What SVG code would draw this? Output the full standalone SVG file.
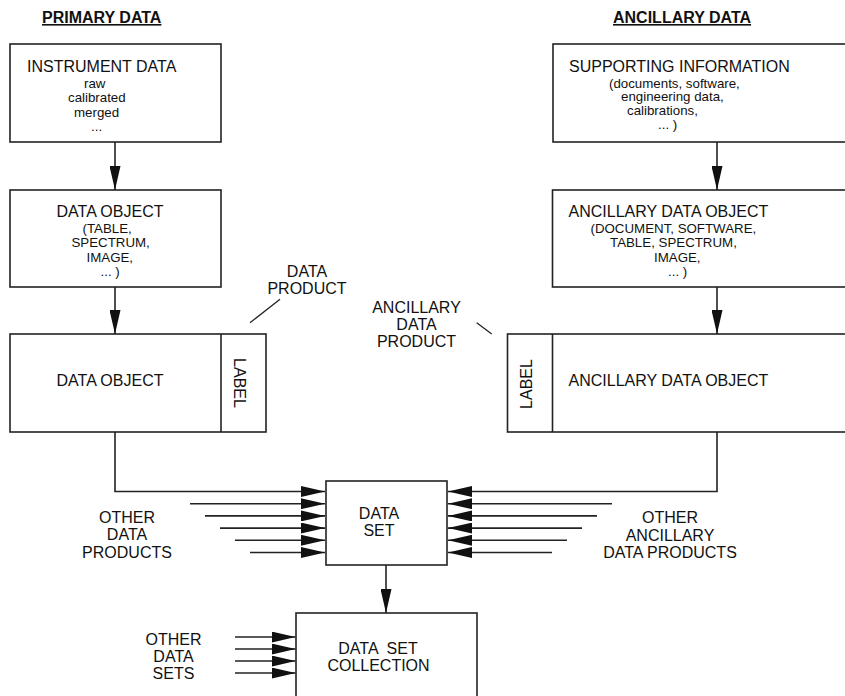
<svg xmlns="http://www.w3.org/2000/svg" width="845" height="696" viewBox="0 0 845 696">
<defs>
<style>
.box{fill:#fff;stroke:#222;stroke-width:1.6}
.conn{fill:none;stroke:#222;stroke-width:1.6}
.lead{fill:none;stroke:#222;stroke-width:1.3}
text{font-family:"Liberation Sans",Arial,Helvetica,sans-serif;font-size:16px;fill:#111}
.s{font-size:13.3px}
.c{text-anchor:middle}
.h{font-weight:bold;text-decoration:underline}
</style>
<marker id="ah" markerUnits="userSpaceOnUse" markerWidth="24" markerHeight="11" refX="24" refY="5.5" orient="auto">
<path d="M0,0 L24,5.5 L0,11 Z" fill="#111"/>
</marker>
</defs>
<rect width="845" height="696" fill="#fff"/>

<g id="headers">
<text class="h" x="42" y="23">PRIMARY DATA</text>
<text class="h" x="613" y="23">ANCILLARY DATA</text>
</g>

<g id="connectors">
<line class="conn" x1="115" y1="142" x2="115" y2="190" marker-end="url(#ah)"/>
<line class="conn" x1="115" y1="287" x2="115" y2="334" marker-end="url(#ah)"/>
<line class="conn" x1="717" y1="142" x2="717" y2="190" marker-end="url(#ah)"/>
<line class="conn" x1="717" y1="287" x2="717" y2="334" marker-end="url(#ah)"/>
<polyline class="conn" points="115,432 115,491.5 325,491.5" marker-end="url(#ah)"/>
<line class="conn" x1="190" y1="503.7" x2="325" y2="503.7" marker-end="url(#ah)"/>
<line class="conn" x1="205" y1="515.9" x2="325" y2="515.9" marker-end="url(#ah)"/>
<line class="conn" x1="220" y1="528.1" x2="325" y2="528.1" marker-end="url(#ah)"/>
<line class="conn" x1="235" y1="540.3" x2="325" y2="540.3" marker-end="url(#ah)"/>
<line class="conn" x1="250" y1="552.5" x2="325" y2="552.5" marker-end="url(#ah)"/>
<polyline class="conn" points="717,432 717,491.5 448,491.5" marker-end="url(#ah)"/>
<line class="conn" x1="612" y1="503.7" x2="448" y2="503.7" marker-end="url(#ah)"/>
<line class="conn" x1="597" y1="515.9" x2="448" y2="515.9" marker-end="url(#ah)"/>
<line class="conn" x1="582" y1="528.1" x2="448" y2="528.1" marker-end="url(#ah)"/>
<line class="conn" x1="567" y1="540.3" x2="448" y2="540.3" marker-end="url(#ah)"/>
<line class="conn" x1="552" y1="552.5" x2="448" y2="552.5" marker-end="url(#ah)"/>
<line class="conn" x1="386" y1="565" x2="386" y2="613" marker-end="url(#ah)"/>
<line class="conn" x1="235" y1="637" x2="295.5" y2="637" marker-end="url(#ah)"/>
<line class="conn" x1="235" y1="649" x2="295.5" y2="649" marker-end="url(#ah)"/>
<line class="conn" x1="235" y1="661" x2="295.5" y2="661" marker-end="url(#ah)"/>
<line class="conn" x1="235" y1="673" x2="295.5" y2="673" marker-end="url(#ah)"/>
<line class="lead" x1="250" y1="322.7" x2="280" y2="299.3"/>
<line class="lead" x1="476.7" y1="322.7" x2="491.7" y2="334"/>
</g>

<g id="instrument-data">
<rect class="box" x="10" y="44" width="211" height="98"/>
<text x="27" y="71.5">INSTRUMENT DATA</text>
<text class="s" x="84" y="87.5">raw</text>
<text class="s" x="68" y="102">calibrated</text>
<text class="s" x="74" y="116.5">merged</text>
<text class="s" x="91" y="131">...</text>
</g>

<g id="supporting-information">
<rect class="box" x="553" y="44" width="300" height="98"/>
<text x="569" y="71.5">SUPPORTING INFORMATION</text>
<text class="s" x="609" y="87.5">(documents, software,</text>
<text class="s" x="621" y="101">engineering data,</text>
<text class="s" x="627" y="114.5">calibrations,</text>
<text class="s" x="658" y="128.5">... )</text>
</g>

<g id="data-object">
<rect class="box" x="10" y="190" width="211" height="97"/>
<text x="56.5" y="216.5">DATA OBJECT</text>
<text class="s" x="82.5" y="232.5">(TABLE,</text>
<text class="s" x="71.5" y="247">SPECTRUM,</text>
<text class="s" x="86.5" y="261.5">IMAGE,</text>
<text class="s" x="100.5" y="276">... )</text>
</g>

<g id="ancillary-data-object">
<rect class="box" x="552.5" y="190" width="300" height="97"/>
<text x="568.5" y="216.5">ANCILLARY DATA OBJECT</text>
<text class="s" x="590.5" y="232.5">(DOCUMENT, SOFTWARE,</text>
<text class="s" x="610" y="247">TABLE, SPECTRUM,</text>
<text class="s" x="654" y="261.5">IMAGE,</text>
<text class="s" x="668" y="276">... )</text>
</g>

<g id="data-product">
<rect class="box" x="10" y="334" width="256" height="98"/>
<line class="conn" x1="221" y1="334" x2="221" y2="432"/>
<text x="56.5" y="386">DATA OBJECT</text>
<text class="c" transform="translate(233.6,383) rotate(90)">LABEL</text>
<text class="c" x="307" y="277">DATA</text>
<text class="c" x="307" y="294">PRODUCT</text>
</g>

<g id="ancillary-data-product">
<rect class="box" x="507.5" y="334" width="350" height="98"/>
<line class="conn" x1="552.5" y1="334" x2="552.5" y2="432"/>
<text x="568.5" y="386">ANCILLARY DATA OBJECT</text>
<text class="c" transform="translate(532.4,384) rotate(-90)">LABEL</text>
<text class="c" x="416.5" y="312.5">ANCILLARY</text>
<text class="c" x="416.5" y="329.5">DATA</text>
<text class="c" x="416.5" y="346.5">PRODUCT</text>
</g>

<g id="data-set">
<rect class="box" x="326" y="481" width="121" height="84"/>
<text class="c" x="379" y="519">DATA</text>
<text class="c" x="379" y="536">SET</text>
</g>

<g id="other-data-products">
<text class="c" x="127" y="523">OTHER</text>
<text class="c" x="127" y="540.3">DATA</text>
<text class="c" x="127" y="557.5">PRODUCTS</text>
</g>

<g id="other-ancillary-data-products">
<text class="c" x="670" y="523.3">OTHER</text>
<text class="c" x="670" y="541">ANCILLARY</text>
<text class="c" x="670" y="558.3">DATA PRODUCTS</text>
</g>

<g id="data-set-collection">
<rect class="box" x="296" y="613" width="181" height="95"/>
<text class="c" x="378" y="654" xml:space="preserve">DATA  SET</text>
<text class="c" x="378.5" y="671">COLLECTION</text>
</g>

<g id="other-data-sets">
<text class="c" x="173.5" y="645">OTHER</text>
<text class="c" x="173.5" y="662.3">DATA</text>
<text class="c" x="173.5" y="679.3">SETS</text>
</g>
</svg>
